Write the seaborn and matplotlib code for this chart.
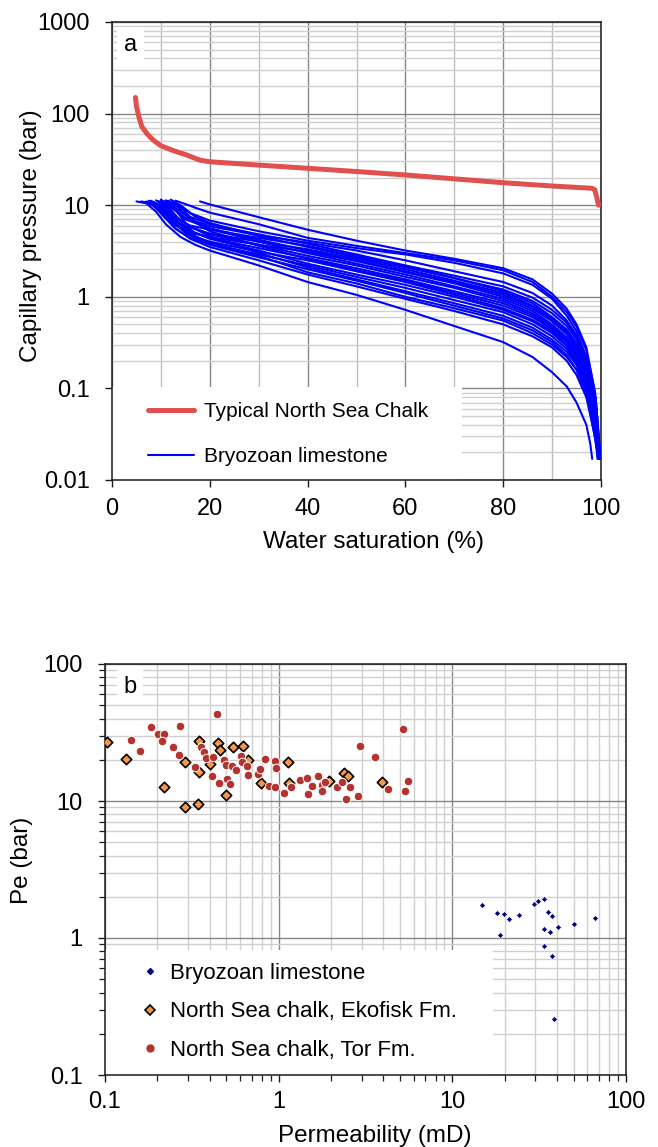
import numpy as np
import pandas as pd
import matplotlib
matplotlib.use("Agg")
import matplotlib.pyplot as plt
import seaborn as sns
from matplotlib.ticker import (FixedLocator, LogLocator, NullFormatter,
                               FuncFormatter, MultipleLocator)
from matplotlib.lines import Line2D
from matplotlib.patches import Rectangle

# ---------------------------------------------------------------------------
# Panel a: capillary pressure curves
# ---------------------------------------------------------------------------
chalk_sw = [4.8, 5.0, 5.5, 6.1, 7.2, 8.4, 10, 12.5, 15.3, 18, 20, 30, 40, 50,
            60, 70, 80, 90, 98.1, 98.7, 99.1, 99.5]
chalk_pc = [150, 120, 92, 72, 60, 51.5, 44.6, 39.5, 35.3, 31, 29.8, 27.4,
            25.3, 23.3, 21.4, 19.4, 17.6, 16.2, 15.3, 14.8, 12.4, 10.0]

# Bryozoan limestone samples: start of each curve, common saturation steps,
# and the final drop towards the lowest measured pressure.
bryo_head_sw = [
    [18], [13, 15, 17], [11, 13, 16], [9.5, 12, 15], [10, 12, 15],
    [8, 10, 13, 16], [12, 14, 17], [7, 9, 11, 14], [10.5, 12.5, 15],
    [6, 8, 10, 13, 16], [11.5, 13.5, 16], [9, 11, 13, 16],
    [8.5, 10.5, 13, 16], [12.5, 14.5, 17], [7.5, 9.5, 11.5, 14, 17],
    [10, 12, 14.5, 17], [6.5, 8.5, 10.5, 13, 16], [11, 13, 15.5],
    [8, 10, 12, 15, 17.5], [9.5, 11.5, 14, 17], [7, 9, 11, 13, 16],
    [5, 7, 9, 11, 14, 17],
]
bryo_head_pc = [
    [11.0], [11.2, 10.3, 9.4], [11.3, 10.2, 8.2], [11.1, 9.5, 7.3],
    [11.4, 10.2, 7.8], [11.0, 9.8, 7.2, 6.0], [11.5, 10.0, 7.5],
    [10.8, 10.0, 8.0, 6.2], [11.0, 9.6, 7.0], [11.0, 10.3, 8.3, 6.0, 5.0],
    [11.2, 9.5, 7.0], [11.3, 9.8, 7.6, 5.8], [10.9, 9.2, 6.8, 5.2],
    [11.0, 9.0, 6.5], [11.2, 10.2, 7.8, 5.6, 4.5], [11.5, 9.0, 6.2, 5.0],
    [10.8, 10.0, 7.6, 5.5, 4.4], [11.0, 8.8, 6.0], [11.2, 9.4, 7.0, 5.0, 4.2],
    [10.9, 8.8, 6.0, 4.6], [11.0, 9.8, 7.4, 5.6, 4.3],
    [11.0, 10.5, 8.5, 6.2, 4.5, 3.7],
]
bryo_body_sw = [20, 30, 40, 50, 60, 70, 80, 86, 90, 93, 95, 97]
bryo_body_pc = [
    [10.2, 7.4, 5.4, 4.1, 3.2, 2.6, 2.05, 1.55, 1.08, 0.74, 0.5, 0.28],
    [8.3, 6.2, 4.4, 3.6, 3.0, 2.5, 1.95, 1.45, 1.0, 0.68, 0.47, 0.26],
    [6.8, 5.2, 4.1, 3.4, 2.9, 2.35, 1.8, 1.35, 0.95, 0.62, 0.42, 0.22],
    [5.9, 4.7, 3.9, 3.2, 2.5, 1.9, 1.45, 1.1, 0.8, 0.55, 0.38, 0.2],
    [6.2, 4.8, 3.8, 2.9, 2.2, 1.7, 1.3, 0.98, 0.72, 0.52, 0.36, 0.2],
    [5.4, 4.4, 3.6, 2.8, 2.15, 1.6, 1.2, 0.9, 0.66, 0.48, 0.34, 0.19],
    [6.4, 4.6, 3.5, 2.7, 2.1, 1.6, 1.15, 0.85, 0.6, 0.44, 0.31, 0.17],
    [4.9, 4.0, 3.3, 2.6, 2.0, 1.5, 1.1, 0.8, 0.58, 0.42, 0.3, 0.17],
    [5.6, 4.2, 3.2, 2.5, 1.9, 1.45, 1.05, 0.78, 0.56, 0.4, 0.28, 0.16],
    [4.5, 3.7, 3.1, 2.45, 1.85, 1.4, 1.0, 0.74, 0.54, 0.39, 0.27, 0.15],
    [5.5, 4.0, 3.0, 2.3, 1.75, 1.3, 0.95, 0.7, 0.5, 0.36, 0.25, 0.14],
    [4.8, 3.7, 2.8, 2.2, 1.65, 1.25, 0.9, 0.66, 0.48, 0.34, 0.24, 0.13],
    [4.4, 3.4, 2.65, 2.05, 1.55, 1.15, 0.85, 0.63, 0.46, 0.33, 0.23, 0.13],
    [5.2, 3.6, 2.6, 1.95, 1.5, 1.1, 0.8, 0.6, 0.44, 0.32, 0.22, 0.12],
    [4.0, 3.1, 2.5, 1.9, 1.45, 1.05, 0.75, 0.56, 0.42, 0.3, 0.21, 0.12],
    [4.3, 3.2, 2.3, 1.75, 1.35, 1.0, 0.72, 0.54, 0.4, 0.29, 0.2, 0.11],
    [3.8, 2.9, 2.2, 1.65, 1.25, 0.92, 0.68, 0.5, 0.37, 0.27, 0.19, 0.11],
    [4.6, 3.0, 2.1, 1.55, 1.15, 0.85, 0.62, 0.46, 0.34, 0.25, 0.18, 0.1],
    [3.7, 2.7, 2.0, 1.5, 1.1, 0.8, 0.58, 0.43, 0.32, 0.23, 0.16, 0.09],
    [3.9, 2.8, 1.85, 1.4, 1.0, 0.75, 0.55, 0.4, 0.3, 0.22, 0.16, 0.09],
    [3.5, 2.5, 1.75, 1.3, 0.95, 0.7, 0.5, 0.37, 0.28, 0.2, 0.14, 0.08],
    [3.2, 2.2, 1.45, 1.05, 0.72, 0.48, 0.32, 0.22, 0.15, 0.105, 0.07, 0.04],
]
bryo_tail_sw = [
    [98.6, 99.4], [98.8, 99.6], [98.9, 99.7], [99.0, 99.8], [99.1, 99.9],
    [98.9, 99.6], [98.7, 99.5], [99.0, 99.8], [98.8, 99.5], [99.2, 99.9],
    [98.6, 99.3], [98.9, 99.6], [99.0, 99.7], [98.7, 99.4], [99.2, 99.9],
    [98.8, 99.5], [99.1, 99.8], [98.9, 99.5], [99.0, 99.7], [98.7, 99.4],
    [98.9, 99.6], [97.8, 98.2],
]
bryo_tail_pc = [
    [0.1, 0.017], [0.09, 0.017], [0.08, 0.017], [0.07, 0.017], [0.06, 0.017],
    [0.06, 0.017], [0.06, 0.017], [0.06, 0.017], [0.055, 0.017],
    [0.05, 0.017], [0.05, 0.017], [0.045, 0.017], [0.04, 0.017],
    [0.04, 0.017], [0.04, 0.017], [0.035, 0.017], [0.035, 0.017],
    [0.03, 0.017], [0.03, 0.017], [0.03, 0.017], [0.028, 0.017],
    [0.025, 0.017],
]

# ---------------------------------------------------------------------------
# Panel b: entry pressure versus permeability
# ---------------------------------------------------------------------------
bryo_perm = [14.9, 18.0, 19.8, 21.1, 24.3, 18.8, 29.6, 31.3, 33.5, 35.6,
             37.7, 33.5, 36.6, 40.5, 50.2, 66.1, 33.5, 37.6, 38.4]
bryo_pe = [1.74, 1.53, 1.50, 1.38, 1.46, 1.05, 1.76, 1.86, 1.93, 1.54,
           1.45, 1.16, 1.10, 1.21, 1.26, 1.41, 0.88, 0.74, 0.256]

ekofisk_perm = [0.103, 0.132, 0.219, 0.288, 0.288, 0.341, 0.348, 0.348,
                0.401, 0.448, 0.462, 0.496, 0.548, 0.624, 0.667, 0.788,
                1.13, 1.14, 1.96, 2.39, 2.52, 3.93]
ekofisk_pe = [27.1, 20.1, 12.6, 9.1, 19.4, 9.5, 27.6, 16.2, 18.6, 26.4,
              23.5, 11.1, 24.8, 25.2, 19.9, 13.6, 19.1, 13.6, 14.1, 15.9,
              15.2, 13.8]

tor_perm = [0.444, 0.184, 0.270, 0.201, 0.218, 0.212, 0.142, 0.160, 0.245,
            0.267, 0.329, 0.356, 0.372, 0.384, 0.419, 0.412, 0.454, 0.485,
            0.500, 0.505, 0.523, 0.542, 0.571, 0.610, 0.618, 0.661, 0.667,
            0.761, 0.785, 0.832, 0.880, 0.948, 0.948, 0.970, 1.08, 1.17,
            1.32, 1.46, 1.48, 1.56, 1.68, 1.77, 1.78, 1.86, 2.16, 2.32,
            2.43, 2.58, 2.88, 2.95, 3.60, 4.27, 5.22, 5.53, 5.37]
tor_pe = [42.9, 34.9, 35.3, 30.7, 30.7, 27.6, 27.9, 23.0, 24.9, 21.5, 17.8,
          24.9, 22.9, 20.5, 20.9, 15.2, 13.6, 19.9, 18.3, 14.4, 13.3, 18.0,
          16.8, 21.3, 19.4, 18.0, 15.4, 15.7, 17.2, 20.1, 12.9, 12.6, 19.6,
          17.3, 11.5, 12.6, 14.2, 14.6, 11.2, 12.9, 15.2, 13.1, 11.8, 13.8,
          12.6, 13.7, 10.4, 12.6, 10.8, 25.2, 20.8, 12.2, 33.3, 13.9, 11.8]

# ---------------------------------------------------------------------------
# Long-form tables
# ---------------------------------------------------------------------------
rows = []
for i in range(len(bryo_head_sw)):
    sw = bryo_head_sw[i] + bryo_body_sw + bryo_tail_sw[i]
    pc = bryo_head_pc[i] + bryo_body_pc[i] + bryo_tail_pc[i]
    for k, (s, p) in enumerate(zip(sw, pc)):
        rows.append({"sample": i, "order": k, "Sw": s, "Pc": p})
bryo_df = pd.DataFrame(rows)
chalk_df = pd.DataFrame({"Sw": chalk_sw, "Pc": chalk_pc})

bryo_pts = pd.DataFrame({"k": bryo_perm, "pe": bryo_pe})
eko_pts = pd.DataFrame({"k": ekofisk_perm, "pe": ekofisk_pe})
tor_pts = pd.DataFrame({"k": tor_perm, "pe": tor_pe})

# ---------------------------------------------------------------------------
# Style
# ---------------------------------------------------------------------------
sns.set_style("ticks")
plt.rcParams['font.family'] = ['Liberation Sans', 'DejaVu Sans']
plt.rcParams.update({
    'axes.linewidth': 1.1,
    'axes.edgecolor': '#1a1a1a',
    'text.color': 'black',
    'axes.labelcolor': 'black',
    'xtick.color': '#1a1a1a',
    'ytick.color': '#1a1a1a',
    'xtick.labelcolor': 'black',
    'ytick.labelcolor': 'black',
})

FS = 17
FS_LABEL = 17.5
RED = '#E0504F'
BLUE = '#0000FF'
TOR = '#B5332E'
ORANGE = '#F79646'
NAVY = '#000080'
MAJOR_GRID = '#868686'
MINOR_GRID = '#CFCFCF'

fig = plt.figure(figsize=(6.58, 11.47), dpi=100)
W, H = 658, 1147
ax1 = fig.add_axes([112 / W, 1 - 480 / H, 489 / W, 458 / H])
ax2 = fig.add_axes([105 / W, 1 - 1075 / H, 521 / W, 411 / H])

fmt = FuncFormatter(lambda v, p: f"{v:g}")

# ----- panel a -----
ax1.set_axisbelow(True)
ax1.set_yscale('log')
ax1.set_xlim(0, 100)
ax1.set_ylim(0.01, 1000)
ax1.xaxis.set_major_locator(MultipleLocator(20))
ax1.xaxis.set_minor_locator(FixedLocator([10, 30, 50, 70, 90]))
ax1.yaxis.set_major_locator(LogLocator(base=10, numticks=10))
ax1.yaxis.set_minor_locator(LogLocator(base=10, subs=np.arange(2, 10), numticks=20))
ax1.yaxis.set_major_formatter(fmt)
ax1.yaxis.set_minor_formatter(NullFormatter())
ax1.grid(which='major', color=MAJOR_GRID, lw=1.0)
ax1.grid(which='minor', axis='y', color=MINOR_GRID, lw=1.0)
ax1.grid(which='minor', axis='x', color='#BDBDBD', lw=1.0)
ax1.tick_params(which='major', direction='out', length=5, width=1,
                labelsize=FS)
ax1.tick_params(axis='y', which='major', pad=11)
ax1.tick_params(axis='x', which='major', pad=8)
ax1.tick_params(which='minor', length=0)

ax1.add_patch(Rectangle((0, 0), 350 / 489, 93 / 458, transform=ax1.transAxes,
                        facecolor='white', edgecolor='none', zorder=1))

sns.lineplot(data=bryo_df, x="Sw", y="Pc", units="sample", estimator=None,
             sort=False, color=BLUE, lw=1.5, ax=ax1, zorder=3)
sns.lineplot(data=chalk_df, x="Sw", y="Pc", sort=False, color=RED, lw=3.6,
             ax=ax1, zorder=4)

ax1.set_xlabel("Water saturation (%)", fontsize=FS_LABEL)
ax1.set_ylabel("Capillary pressure (bar)", fontsize=FS_LABEL)
ax1.xaxis.set_label_coords(0.534, -0.112)
ax1.yaxis.set_label_coords(-0.143, 0.533)
ax1.text(0.037, 0.95, "a", transform=ax1.transAxes, fontsize=FS,
         ha='center', va='center', zorder=5,
         bbox=dict(facecolor='white', edgecolor='none', pad=5))

leg_a = [Line2D([], [], color=RED, lw=3.6), Line2D([], [], color=BLUE, lw=1.5)]
ax1.legend(leg_a, ["Typical North Sea Chalk", "Bryozoan limestone"],
           loc='upper left', bbox_to_anchor=(36 / 489, 78 / 458),
           frameon=False, fontsize=15, handlelength=2.2, handletextpad=0.5,
           labelspacing=1.25, borderpad=0, borderaxespad=0)

# ----- panel b -----
ax2.set_axisbelow(True)
ax2.set_xscale('log')
ax2.set_yscale('log')
ax2.set_xlim(0.1, 100)
ax2.set_ylim(0.1, 100)
for axis in (ax2.xaxis, ax2.yaxis):
    axis.set_major_locator(LogLocator(base=10, numticks=10))
    axis.set_minor_locator(LogLocator(base=10, subs=np.arange(2, 10), numticks=20))
    axis.set_major_formatter(fmt)
    axis.set_minor_formatter(NullFormatter())
ax2.grid(which='major', color=MAJOR_GRID, lw=1.0)
ax2.grid(which='minor', color=MINOR_GRID, lw=1.0)
ax2.tick_params(which='major', direction='out', length=5, width=1,
                labelsize=FS)
ax2.tick_params(which='minor', direction='out', length=4, width=0.9)
ax2.tick_params(axis='y', which='major', pad=11)
ax2.tick_params(axis='x', which='major', pad=6.5)

ax2.add_patch(Rectangle((0, 0), 388 / 521, 125 / 411, transform=ax2.transAxes,
                        facecolor='white', edgecolor='none', zorder=1))

sns.scatterplot(data=bryo_pts, x="k", y="pe", marker='D', s=9, color=NAVY,
                edgecolor='white', linewidth=0.4, ax=ax2, zorder=3)
sns.scatterplot(data=eko_pts, x="k", y="pe", marker='D', s=28, color=ORANGE,
                edgecolor='black', linewidth=1.2, ax=ax2, zorder=3)
sns.scatterplot(data=tor_pts, x="k", y="pe", marker='o', s=38, color=TOR,
                edgecolor='white', linewidth=0.7, ax=ax2, zorder=4)

ax2.set_xlabel("Permeability (mD)", fontsize=FS_LABEL)
ax2.set_ylabel("Pe (bar)", fontsize=FS_LABEL)
ax2.xaxis.set_label_coords(0.518, -0.122)
ax2.yaxis.set_label_coords(-0.138, 0.523)
ax2.text(0.048, 0.945, "b", transform=ax2.transAxes, fontsize=FS,
         ha='center', va='center', zorder=5,
         bbox=dict(facecolor='white', edgecolor='none', pad=5))

leg_b = [
    Line2D([], [], ls='none', marker='D', ms=3.0, color=NAVY, mec=NAVY),
    Line2D([], [], ls='none', marker='D', ms=5.3, color=ORANGE, mec='black', mew=1.2),
    Line2D([], [], ls='none', marker='o', ms=5, color=TOR, mec=TOR),
]
ax2.legend(leg_b, ["Bryozoan limestone", "North Sea chalk, Ekofisk Fm.",
                   "North Sea chalk, Tor Fm."],
           loc='upper left', bbox_to_anchor=(34 / 521, 112.5 / 411),
           frameon=False, fontsize=16, handlelength=1.0, handletextpad=0.4,
           labelspacing=0.8, borderpad=0, borderaxespad=0)

fig.savefig("out.png", dpi=100)
